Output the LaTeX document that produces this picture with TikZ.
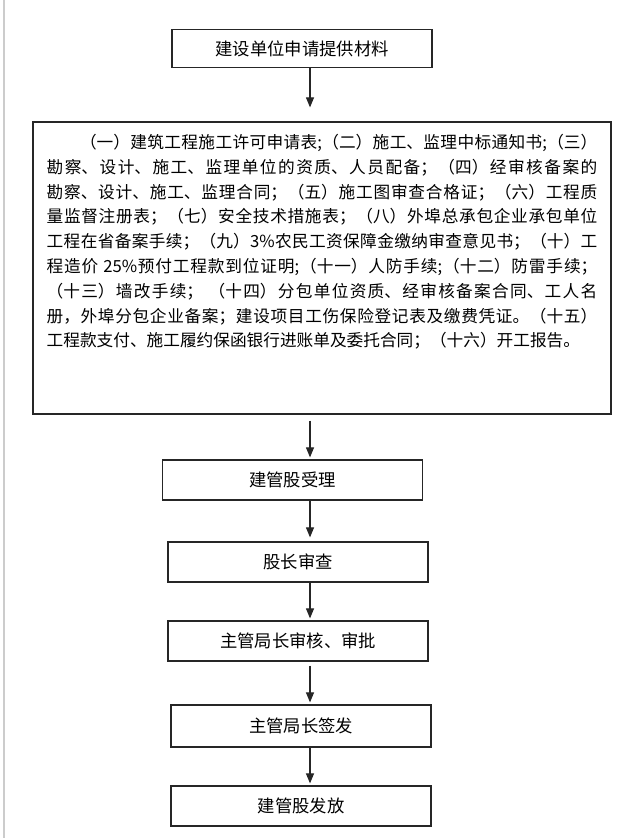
\documentclass[tikz,border=0pt]{standalone}
\usepackage{fontspec}
\setmainfont{Noto Sans CJK SC}
\usetikzlibrary{arrows.meta}
\XeTeXlinebreaklocale "zh"
\XeTeXlinebreakskip=0pt plus 1pt minus 0.2pt
\begin{document}
\begin{tikzpicture}
[x=0.75pt,y=-0.75pt,
 stepbox/.style={draw=black!85,line width=0.9pt,minimum width=195pt,
   minimum height=30pt,inner sep=0pt,font=\fontsize{13pt}{15pt}\selectfont},
 flowarrow/.style={draw=black!85,line width=0.8pt,shorten >=1.5pt,
   -{Triangle[length=7.5pt,width=6pt]}}]
\useasboundingbox (0,0) rectangle (620,838);
%% grey rule down the left side
\draw[black!20,line width=1.2pt] (4,0) -- (4,838);
%% the boxes of the flow
\node[stepbox,minimum height=29pt] (apply) at (302,48.5) {建设单位申请提供材料};
\node[stepbox,minimum width=433.5pt,minimum height=219pt] (papers) at (322,268) {};
\node[anchor=north,text width=413pt,align=justify,inner sep=0pt,
  font=\fontsize{12.5pt}{18.6pt}\selectfont] (paperlist) at (322,134)
  {\parfillskip=0pt \hspace*{2em}（一）建筑工程施工许可申请表;（二）施工、监理中标通知书;（三）\linebreak
  勘察、设计、施工、监理单位的资质、人员配备；（四）经审核备案的\linebreak
  勘察、设计、施工、监理合同；（五）施工图审查合格证；（六）工程质\linebreak
  量监督注册表；（七）安全技术措施表；（八）外埠总承包企业承包单位\linebreak
  工程在省备案手续；（九）3\%农民工资保障金缴纳审查意见书；（十）工\linebreak
  程造价 25\%预付工程款到位证明;（十一）人防手续;（十二）防雷手续；\linebreak
  （十三）墙改手续； （十四）分包单位资质、经审核备案合同、工人名\linebreak
  册，外埠分包企业备案；建设项目工伤保险登记表及缴费凭证。（十五）\linebreak
  工程款支付、施工履约保函银行进账单及委托合同；（十六）开工报告。};
\node[stepbox] (accept) at (292.5,480) {建管股受理};
\node[stepbox] (check) at (298,562) {股长审查};
\node[stepbox] (review) at (298,641) {主管局长审核、审批};
\node[stepbox,minimum height=31.5pt] (sign) at (301,726) {主管局长签发};
\node[stepbox] (issue) at (301,806) {建管股发放};
%% arrows, all on one vertical line
\coordinate (axis) at (310,0);
\draw[flowarrow,shorten >=10.5pt] (apply.south -| axis) -- (papers.north -| axis);
\draw[flowarrow,shorten <=4.5pt] (papers.south -| axis) -- (accept.north -| axis);
\draw[flowarrow,shorten >=3pt] (accept.south -| axis) -- (check.north -| axis);
\draw[flowarrow] (check.south -| axis) -- (review.north -| axis);
\draw[flowarrow,shorten <=3pt] (review.south -| axis) -- (sign.north -| axis);
\draw[flowarrow] (sign.south -| axis) -- (issue.north -| axis);
\end{tikzpicture}
\end{document}
